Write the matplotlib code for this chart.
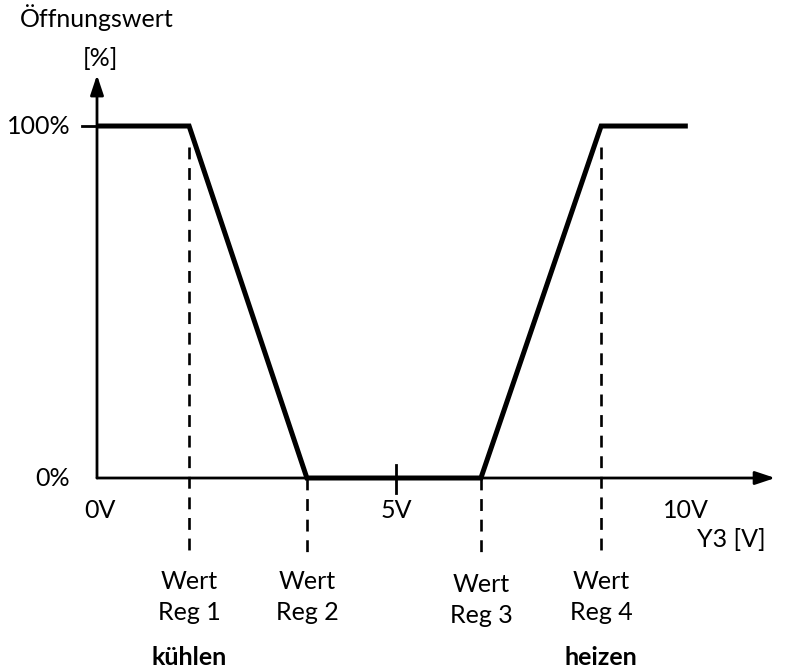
import matplotlib
matplotlib.use("Agg")
import matplotlib.pyplot as plt

plt.rcParams["font.family"] = ["Lato", "DejaVu Sans"]

# ── Daten ─────────────────────────────────────────────────────────────────────
volt = [0.0, 1.54, 3.51, 6.42, 8.43, 9.88]          # Knickpunkte (V)
oeffnung = [100, 100, 0, 0, 100, 100]                # Öffnungswert (%)
reg_x = [1.54, 3.51, 6.42, 8.43]                     # Wert Reg 1..4
reg_top = [100, 0, 0, 100]
reg_labels = ["Wert\nReg 1", "Wert\nReg 2", "Wert\nReg 3", "Wert\nReg 4"]
xtick_v = [0, 5, 10]
xtick_lbl = ["0V", "5V", "10V"]
ytick_p = [0, 100]
ytick_lbl = ["0%", "100%"]

FS = 18

fig = plt.figure(figsize=(7.92, 6.69), dpi=100)
ax = fig.add_axes([0, 0, 1, 1])
ax.set_xlim(-1.622, 11.622)
ax.set_ylim(-54.26, 135.8)
ax.axis("off")

# Achsen mit Pfeilen
arrow = dict(arrowstyle="-|>,head_length=1.2,head_width=0.4", color="black",
             lw=2.0, shrinkA=0, shrinkB=0)
ax.annotate("", xy=(11.34, 0), xytext=(0, 0), arrowprops=arrow)
ax.annotate("", xy=(0, 114.5), xytext=(0, 0), arrowprops=arrow)

# Ticks
ax.plot([-0.25, 0], [100, 100], color="black", lw=2.0)
ax.plot([5, 5], [3.6, -4.3], color="black", lw=2.0)

# Hilfslinien
for x, top in zip(reg_x, reg_top):
    ax.plot([x, x], [top - 6 if top else top, -22.3], color="black", lw=1.9,
            linestyle=(0, (4.5, 3.3)))

# Kennlinie
ax.plot(volt, oeffnung, color="black", lw=3.6, solid_joinstyle="miter",
        solid_capstyle="butt", zorder=5)

# Beschriftungen
for v, t in zip(xtick_v, xtick_lbl):
    dx = -0.15 if v == 10 else 0.05 if v == 0 else 0
    ax.text(v + dx, -9.3, t, ha="center", va="center", fontsize=FS)
for p, t in zip(ytick_p, ytick_lbl):
    ax.text(-0.45, p, t, ha="right", va="center", fontsize=FS)

lbl_y = [-33.8, -33.8, -34.6, -33.8]
for x, t, y in zip(reg_x, reg_labels, lbl_y):
    ax.text(x, y, t, ha="center", va="center", fontsize=FS, linespacing=1.45)

ax.text(1.54, -51.0, "kühlen", ha="center", va="center", fontsize=FS,
        fontweight="bold")
ax.text(8.43, -51.0, "heizen", ha="center", va="center", fontsize=FS,
        fontweight="bold")

ax.text(10.6, -17.6, "Y3 [V]", ha="center", va="center", fontsize=FS)
ax.text(0.0, 130.7, "Öffnungswert", ha="center", va="center", fontsize=FS)
ax.text(0.05, 119.3, "[%]", ha="center", va="center", fontsize=FS)

plt.savefig("out.png", dpi=100)
